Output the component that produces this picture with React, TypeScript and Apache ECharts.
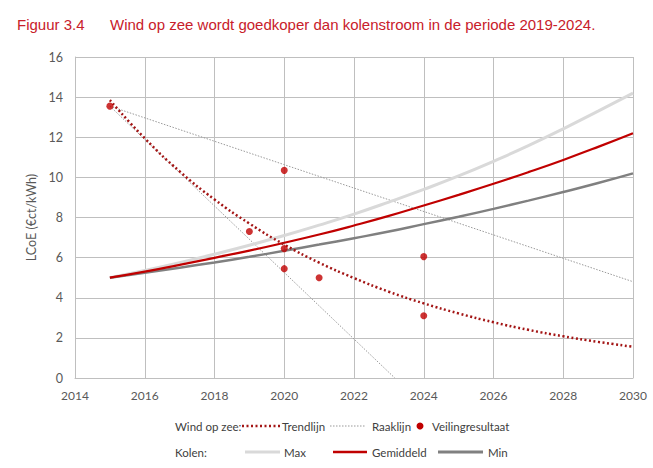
import React, { useEffect, useRef } from "react";
import * as echarts from "echarts";

const years = [2015, 2016, 2017, 2018, 2019, 2020, 2021, 2022, 2023, 2024, 2025, 2026, 2027, 2028, 2029, 2030];
const kolenMax = [5.0, 5.36, 5.75, 6.17, 6.62, 7.1, 7.62, 8.17, 8.77, 9.4, 10.07, 10.8, 11.58, 12.42, 13.3, 14.2];
const kolenGemiddeld = [5.0, 5.3, 5.64, 5.99, 6.35, 6.74, 7.15, 7.6, 8.08, 8.6, 9.13, 9.68, 10.26, 10.87, 11.52, 12.2];
const kolenMin = [5.0, 5.24, 5.5, 5.76, 6.04, 6.34, 6.65, 6.97, 7.3, 7.67, 8.04, 8.43, 8.84, 9.27, 9.72, 10.2];
const trendlijn = [13.85, 11.95, 10.3, 8.9, 7.7, 6.65, 5.75, 4.98, 4.3, 3.72, 3.22, 2.78, 2.4, 2.08, 1.8, 1.56];
const raaklijnSteil = [[2015, 13.55], [2023.17, 0]];
const raaklijnVlak = [[2015, 13.55], [2030, 4.8]];
const veilingJaar = [2015, 2019, 2020, 2020, 2020, 2021, 2024, 2024];
const veilingWaarde = [13.55, 7.3, 10.35, 6.45, 5.45, 5.0, 6.05, 3.1];

const titleNr = "Figuur 3.4";
const titleText = "Wind op zee wordt goedkoper dan kolenstroom in de periode 2019-2024.";
const yName = "LCoE (€ct/kWh)";

const RED = "#c00000";
const TREND = "#a31515";
const MAXC = "#d9d9d9";
const MINC = "#808080";
const RAAK = "#999999";
const TXT = "#595959";
const FONT = "Lato, 'Open Sans', sans-serif";

export default function App() {
  const ref = useRef<HTMLDivElement>(null);
  useEffect(() => {
    if (!ref.current) return;
    const chart = echarts.init(ref.current, undefined, { renderer: "svg" });
    const pair = (vals: number[]) => years.map((y, i) => [y, vals[i]]);
    const legendText = (text: string, x: number, y: number) => ({
      type: "text",
      x,
      y,
      style: { text, fill: "#404040", font: `11.5px ${FONT}`, verticalAlign: "middle" },
    });
    const legendLine = (x1: number, x2: number, y: number, stroke: string, lineWidth: number, lineDash?: number[]) => ({
      type: "line",
      shape: { x1, y1: y, x2, y2: y },
      style: { stroke, lineWidth, lineDash },
    });
    const r1 = 426;
    const r2 = 452;
    chart.setOption({
      animation: false,
      grid: { left: 75, right: 20, top: 57, bottom: 90 },
      xAxis: {
        type: "value",
        min: 2014,
        max: 2030,
        interval: 2,
        axisLine: { show: true, lineStyle: { color: "#bfbfbf", width: 1 } },
        axisTick: { show: false },
        splitLine: { show: true, lineStyle: { color: "#bfbfbf", width: 1 } },
        axisLabel: { color: TXT, fontFamily: FONT, fontSize: 12, margin: 11, formatter: (v: number) => String(v) },
      },
      yAxis: {
        type: "value",
        min: 0,
        max: 16,
        interval: 2,
        name: yName,
        nameLocation: "middle",
        nameGap: 29,
        nameTextStyle: { color: TXT, fontFamily: FONT, fontSize: 12.5 },
        axisLine: { show: true, lineStyle: { color: "#bfbfbf", width: 1 } },
        axisTick: { show: false },
        splitLine: { show: true, lineStyle: { color: "#bfbfbf", width: 1 } },
        axisLabel: { color: TXT, fontFamily: FONT, fontSize: 12.5, margin: 12 },
      },
      series: [
        {
          name: "Raaklijn",
          type: "line",
          data: raaklijnSteil,
          symbol: "none",
          lineStyle: { color: RAAK, width: 1, type: [1.5, 1.5] },
        },
        {
          name: "Raaklijn2",
          type: "line",
          data: raaklijnVlak,
          symbol: "none",
          lineStyle: { color: RAAK, width: 1, type: [1.5, 1.5] },
        },
        {
          name: "Max",
          type: "line",
          data: pair(kolenMax),
          smooth: true,
          symbol: "none",
          lineStyle: { color: MAXC, width: 3 },
        },
        {
          name: "Min",
          type: "line",
          data: pair(kolenMin),
          smooth: true,
          symbol: "none",
          lineStyle: { color: MINC, width: 2.5 },
        },
        {
          name: "Gemiddeld",
          type: "line",
          data: pair(kolenGemiddeld),
          smooth: true,
          symbol: "none",
          lineStyle: { color: RED, width: 2.2 },
        },
        {
          name: "Trendlijn",
          type: "line",
          data: pair(trendlijn),
          smooth: true,
          symbol: "none",
          lineStyle: { color: TREND, width: 2.5, type: [2, 2.5] },
        },
        {
          name: "Veilingresultaat",
          type: "scatter",
          data: veilingJaar.map((y, i) => [y, veilingWaarde[i]]),
          symbolSize: 7,
          itemStyle: { color: RED },
          z: 5,
        },
      ],
      graphic: [
        {
          type: "text",
          x: 17,
          y: 24,
          style: { text: titleNr, fill: "#c8202a", font: "15px 'Liberation Sans', Arial, sans-serif", verticalAlign: "middle" },
        },
        {
          type: "text",
          x: 110,
          y: 24,
          style: { text: titleText, fill: "#c8202a", font: "15px 'Liberation Sans', Arial, sans-serif", verticalAlign: "middle" },
        },
        legendText("Wind op zee:", 175, r1),
        legendLine(242, 282, r1, TREND, 2.5, [2, 2.5]),
        legendText("Trendlijn", 282, r1),
        legendLine(330, 366, r1, RAAK, 1.2, [1.5, 1.5]),
        legendText("Raaklijn", 372, r1),
        { type: "circle", shape: { cx: 420, cy: r1, r: 3.5 }, style: { fill: RED } },
        legendText("Veilingresultaat", 432, r1),
        legendText("Kolen:", 175, r2),
        legendLine(245, 280, r2, MAXC, 3),
        legendText("Max", 284, r2),
        legendLine(333, 367, r2, RED, 2.5),
        legendText("Gemiddeld", 372, r2),
        legendLine(438, 483, r2, MINC, 3),
        legendText("Min", 488, r2),
      ],
    });
    return () => chart.dispose();
  }, []);
  return <div ref={ref} style={{ position: "fixed", left: 0, top: 0, width: 653, height: 468, background: "#fff" }} />;
}
